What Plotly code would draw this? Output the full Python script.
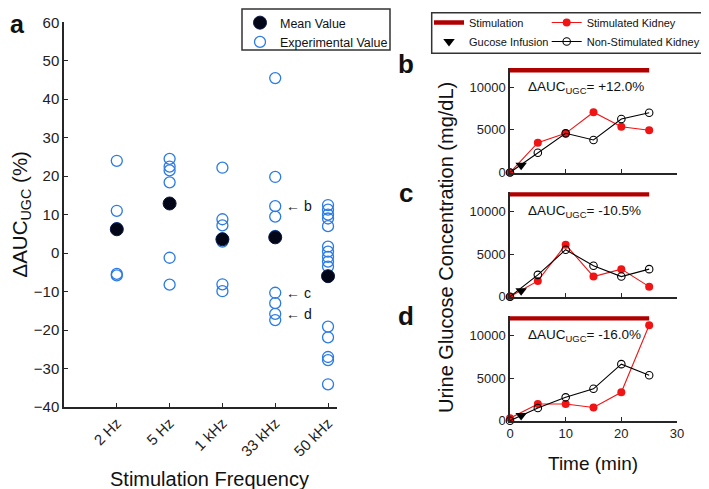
import plotly.graph_objects as go

# ---------------- Data ----------------
categories = ["2 Hz", "5 Hz", "1 kHz", "33 kHz", "50 kHz"]
exp_2hz = [24.0, 11.0, 6.5, -5.4, -5.8]
exp_5hz = [24.5, 22.5, 21.5, 18.4, -1.2, -8.2]
exp_1khz = [22.2, 8.8, 7.2, 3.8, 3.0, -8.1, -9.9]
exp_33khz = [45.5, 19.8, 12.2, 9.5, 4.5, -10.3, -13.0, -15.8, -17.4]
exp_50khz = [12.5, 11.3, 10.0, 9.0, 7.0, 1.7, 0.4, -1.0, -2.2, -3.5,
             -19.1, -21.9, -27.0, -27.8, -34.1]
mean_values = [6.2, 12.9, 3.6, 4.1, -6.0]
a_yticks = [-40, -30, -20, -10, 0, 10, 20, 30, 40, 50, 60]
example_labels = ["b", "c", "d"]
example_values = [12.2, -10.3, -15.8]

time_min = [0, 5, 10, 15, 20, 25]
stim_b = [0, 3490, 4590, 7060, 5370, 4950]
nonstim_b = [0, 2320, 4590, 3810, 6270, 7010]
stim_c = [0, 1850, 6100, 2360, 3230, 1180]
nonstim_c = [0, 2560, 5510, 3620, 2360, 3230]
stim_d = [300, 1950, 1950, 1550, 3330, 11190]
nonstim_d = [0, 1480, 2740, 3740, 6630, 5320]
glucose_time = [2]
glucose_b = [850]
glucose_c = [700]
glucose_d = [600]
stim_period = [0, 25]
stim_level = [12000, 12000]
dauc_text = ["+12.0%", "-10.5%", "-16.0%"]
conc_ticks = [0, 5000, 10000]
time_ticks = [0, 10, 20, 30]

FONT = "Liberation Sans, Arial, Helvetica, sans-serif"
BLUE = "#2B7BE4"
RED = "#F01414"
DARKRED = "#B00000"
AXC = "#262626"
W, H = 709, 489
OFF = 8  # page body margin in the browser

fig = go.Figure()

# ---------------- Panel a ----------------
exp_groups = [exp_2hz, exp_5hz, exp_1khz, exp_33khz, exp_50khz]
xs, ys = [], []
for cat, vals in zip(categories, exp_groups):
    xs += [cat] * len(vals)
    ys += vals
fig.add_trace(go.Scatter(
    x=xs, y=ys, mode="markers", name="Experimental Value",
    marker=dict(symbol="circle-open", size=11, color=BLUE, line=dict(width=1.3, color=BLUE)),
    xaxis="x", yaxis="y", legend="legend", legendrank=2, cliponaxis=False))
fig.add_trace(go.Scatter(
    x=categories, y=mean_values, mode="markers", name="Mean Value",
    marker=dict(symbol="circle", size=13, color="#020617", line=dict(width=1, color="#0A1640")),
    xaxis="x", yaxis="y", legend="legend", legendrank=1, cliponaxis=False))

# ---------------- Panels b, c, d ----------------
panels = [
    ("x2", "y2", stim_b, nonstim_b, glucose_b),
    ("x3", "y3", stim_c, nonstim_c, glucose_c),
    ("x4", "y4", stim_d, nonstim_d, glucose_d),
]
for i, (xa, ya, s, ns, g) in enumerate(panels):
    first = i == 0
    fig.add_trace(go.Scatter(
        x=stim_period, y=stim_level, mode="lines", name="Stimulation",
        line=dict(color=DARKRED, width=4.5), xaxis=xa, yaxis=ya,
        legend="legend2", legendrank=1, showlegend=first))
    fig.add_trace(go.Scatter(
        x=time_min, y=s, mode="lines+markers", name="Stimulated Kidney",
        line=dict(color=RED, width=1.1), marker=dict(size=8, color=RED),
        xaxis=xa, yaxis=ya, legend="legend3", legendrank=1, showlegend=first,
        cliponaxis=False))
    fig.add_trace(go.Scatter(
        x=time_min, y=ns, mode="lines+markers", name="Non-Stimulated Kidney",
        line=dict(color="black", width=1.1),
        marker=dict(symbol="circle-open", size=7.5, color="black", line=dict(width=1.1)),
        xaxis=xa, yaxis=ya, legend="legend3", legendrank=2, showlegend=first,
        cliponaxis=False))
    fig.add_trace(go.Scatter(
        x=glucose_time, y=g, mode="markers", name="Gucose Infusion",
        marker=dict(symbol="triangle-down", size=10, color="black"),
        xaxis=xa, yaxis=ya, legend="legend2", legendrank=2, showlegend=first,
        cliponaxis=False))

# ---------------- Axes ----------------
def px_x(p):
    return (p - OFF) / W

def px_y(p):
    return 1 - (p - OFF) / H

common = dict(showline=True, linecolor=AXC, linewidth=1.5, ticks="inside", ticklen=4,
              tickcolor=AXC, tickwidth=1.2, showgrid=False, zeroline=False,
              automargin=False, mirror=False)

layout_axes = dict(
    xaxis=dict(domain=[px_x(64), px_x(337)], type="category", range=[-1, 4.17],
               tickangle=-45, tickfont=dict(size=15, color="#222"), anchor="y",
               categoryorder="array", categoryarray=categories, **common),
    yaxis=dict(domain=[px_y(407), px_y(22.3)], range=[-40, 60], tickvals=a_yticks,
               tickfont=dict(size=15, color="#222"), anchor="x", **common),
)
y_pix = [(172.5, 68.0), (296.7, 192.2), (420.7, 316.2)]
for i, (bot, top) in enumerate(y_pix):
    n = i + 2
    layout_axes[f"xaxis{n}"] = dict(
        domain=[px_x(510), px_x(677)], range=[0, 30], tickvals=time_ticks,
        showticklabels=(n == 4), tickfont=dict(size=13, color="#222"),
        anchor=f"y{n}", **common)
    layout_axes[f"yaxis{n}"] = dict(
        domain=[px_y(bot), px_y(top)], range=[0, 12250], tickvals=conc_ticks,
        tickformat="d", tickfont=dict(size=13, color="#222"), anchor=f"x{n}", **common)

# ---------------- Annotations ----------------
ann = []
for lab, val in zip(example_labels, example_values):
    ann.append(dict(x="33 kHz", y=val, xref="x", yref="y", text="\u2190 " + lab,
                    showarrow=False, xanchor="left", yanchor="middle", xshift=9,
                    font=dict(size=14, color="#111")))
for i, txt in enumerate(dauc_text):
    n = i + 2
    ann.append(dict(x=2.8, y=10000, xref=f"x{n}", yref=f"y{n}",
                    text="\u0394AUC<sub>UGC</sub>= " + txt, showarrow=False,
                    xanchor="left", yanchor="middle", font=dict(size=13.5, color="#111")))
ann.append(dict(x=px_x(17), y=1, xref="paper", yref="paper", text="<b>a</b>",
                showarrow=False, xanchor="center", yanchor="top",
                font=dict(size=25, color="#111")))
for letter, (x, y) in zip(["b", "c", "d"], [(406, 64), (406, 193), (406, 316)]):
    ann.append(dict(x=px_x(x), y=px_y(y), xref="paper", yref="paper", text=f"<b>{letter}</b>",
                    showarrow=False, xanchor="center", yanchor="middle",
                    font=dict(size=26, color="#111")))
ann.append(dict(x=px_x(20), y=px_y(214.5), xref="paper", yref="paper",
                text="\u0394AUC<sub>UGC</sub> (%)", textangle=-90, showarrow=False,
                xanchor="center", yanchor="middle", font=dict(size=20.5, color="#111")))
ann.append(dict(x=px_x(209), y=px_y(479), xref="paper", yref="paper",
                text="Stimulation Frequency", showarrow=False,
                xanchor="center", yanchor="middle", font=dict(size=20, color="#111")))
ann.append(dict(x=px_x(446), y=px_y(248), xref="paper", yref="paper",
                text="Urine Glucose Concentration (mg/dL)", textangle=-90, showarrow=False,
                xanchor="center", yanchor="middle", font=dict(size=20, color="#111")))
ann.append(dict(x=px_x(593), y=px_y(463), xref="paper", yref="paper",
                text="Time (min)", showarrow=False,
                xanchor="center", yanchor="middle", font=dict(size=19, color="#111")))

shapes = [
    dict(type="rect", xref="paper", yref="paper", x0=px_x(242), x1=px_x(390),
         y0=px_y(50), y1=px_y(9), line=dict(color="#333", width=1.5)),
    dict(type="rect", xref="paper", yref="paper", x0=px_x(431.7), x1=px_x(706.5),
         y0=px_y(53.3), y1=px_y(12.7), line=dict(color="#333", width=1.5)),
]

leg_common = dict(bgcolor="rgba(0,0,0,0)", borderwidth=0, itemwidth=30,
                  xanchor="left", yanchor="top", orientation="v", tracegroupgap=0)
fig.update_layout(
    width=W, height=H, margin=dict(l=0, r=0, t=0, b=0),
    paper_bgcolor="white", plot_bgcolor="white",
    font=dict(family=FONT, color="#111"),
    showlegend=True,
    legend=dict(x=px_x(240), y=1, font=dict(size=12.5), **leg_common),
    legend2=dict(x=px_x(429), y=1, font=dict(size=11), **leg_common),
    legend3=dict(x=px_x(546.7), y=1, font=dict(size=11), **leg_common),
    annotations=ann, shapes=shapes, **layout_axes)

fig.write_html("out.html")
